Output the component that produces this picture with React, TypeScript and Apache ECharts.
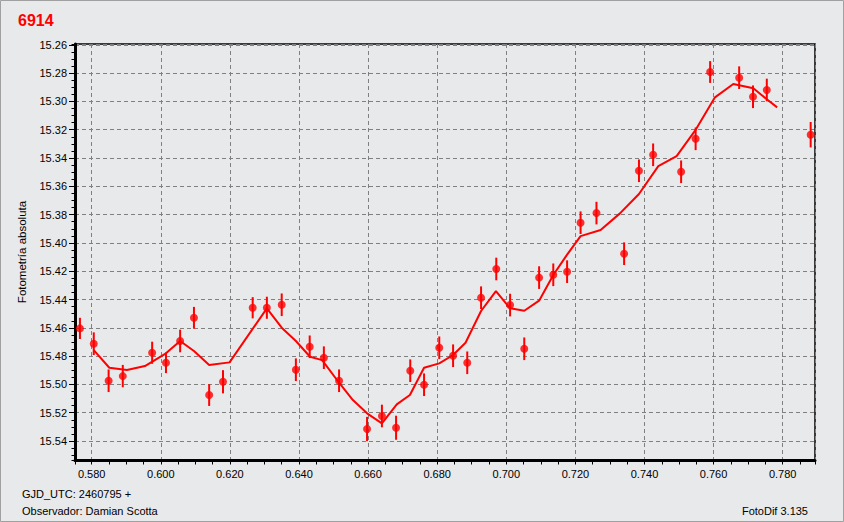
import React, { useEffect, useRef } from 'react';
import * as echarts from 'echarts';

// ---- data ----
const pointX = [
  0.5766, 0.5806, 0.5849, 0.589, 0.5975, 0.6015, 0.6056, 0.6096, 0.614, 0.618,
  0.6266, 0.6307, 0.635, 0.6391, 0.6431, 0.6472, 0.6516, 0.6597, 0.664, 0.6681,
  0.6722, 0.6762, 0.6806, 0.6846, 0.6887, 0.6927, 0.6971, 0.7011, 0.7052, 0.7095,
  0.7136, 0.7176, 0.7215, 0.7261, 0.7341, 0.7384, 0.7425, 0.7506, 0.7548, 0.759,
  0.7674, 0.7714, 0.7754, 0.7881,
];
const pointY = [
  15.4604, 15.4712, 15.4974, 15.4941, 15.4776, 15.4847, 15.4693, 15.4529, 15.5075, 15.4981,
  15.4458, 15.4458, 15.4437, 15.4896, 15.4734, 15.4811, 15.4974, 15.5315, 15.5223, 15.5306,
  15.4903, 15.5002, 15.4741, 15.4797, 15.4847, 15.4387, 15.4184, 15.4439, 15.4748, 15.4245,
  15.4225, 15.4203, 15.3857, 15.3789, 15.4076, 15.349, 15.3377, 15.3497, 15.3264, 15.2792,
  15.2832, 15.2967, 15.2919, 15.3235,
];
const pointErr = [
  0.0075, 0.008, 0.008, 0.0079, 0.0078, 0.0073, 0.008, 0.0077, 0.0077, 0.0082,
  0.0075, 0.0078, 0.008, 0.008, 0.008, 0.008, 0.008, 0.0086, 0.008, 0.0085,
  0.008, 0.008, 0.008, 0.008, 0.008, 0.008, 0.008, 0.008, 0.008, 0.008,
  0.008, 0.008, 0.008, 0.008, 0.008, 0.008, 0.008, 0.008, 0.008, 0.0077,
  0.008, 0.008, 0.008, 0.009,
];
const lineX = [
  0.5806, 0.5851, 0.5902, 0.5954, 0.6015, 0.6056, 0.6096, 0.614, 0.6199, 0.6307,
  0.635, 0.6391, 0.6432, 0.6467, 0.6516, 0.6556, 0.6597, 0.664, 0.6683, 0.6721,
  0.6762, 0.6806, 0.6846, 0.6882, 0.6927, 0.697, 0.7011, 0.7052, 0.7095, 0.7136,
  0.7175, 0.7215, 0.7273, 0.7329, 0.7384, 0.744, 0.7493, 0.7549, 0.7604, 0.7657,
  0.7715, 0.7754, 0.7784,
];
const lineY = [
  15.4757, 15.4882, 15.4898, 15.487, 15.478, 15.4693, 15.4764, 15.4863, 15.4844, 15.4462,
  15.4599, 15.4693, 15.4804, 15.4828, 15.4988, 15.511, 15.5204, 15.5275, 15.5141, 15.5075,
  15.4882, 15.4851, 15.4792, 15.4705, 15.4481, 15.434, 15.4462, 15.4479, 15.4408, 15.4227,
  15.4086, 15.3952, 15.3909, 15.3791, 15.3654, 15.3457, 15.3386, 15.3197, 15.2971, 15.2877,
  15.2907, 15.2985, 15.3042,
];

const titleText = '6914';
const yAxisName = 'Fotometría absoluta';
const footerDate = 'GJD_UTC: 2460795 +';
const footerObserver = 'Observador: Damian Scotta';
const footerSoftware = 'FotoDif 3.135';

const X_MIN = 0.57517;
const X_MAX = 0.78935;
const Y_MIN = 15.2594;
const Y_MAX = 15.5534;

const FONT = '"Liberation Sans", Arial, sans-serif';
const RED = '#ff0000';
const BG = '#e8e9eb';

export default function App() {
  const ref = useRef<HTMLDivElement>(null);

  useEffect(() => {
    if (!ref.current) return;
    const chart = echarts.init(ref.current, undefined, { renderer: 'svg' });

    const points = pointX.map((x, i) => [x, pointY[i]]);
    const bars = pointX.map((x, i) => [x, pointY[i] - pointErr[i], pointY[i] + pointErr[i]]);
    const line = lineX.map((x, i) => [x, lineY[i]]);

    const option: any = {
      animation: false,
      backgroundColor: BG,
      grid: {
        left: 75,
        top: 44,
        right: 29,
        bottom: 62,
        show: true,
        borderColor: '#000',
        borderWidth: 1.5,
        backgroundColor: 'transparent',
        containLabel: false,
        outerBoundsMode: 'none',
      },
      xAxis: [
        {
          type: 'value',
          min: X_MIN,
          max: X_MAX,
          minInterval: 0.02,
          maxInterval: 0.02,
          position: 'bottom',
          axisLine: { show: true, onZero: false, lineStyle: { color: '#000', width: 3 } },
          axisTick: { show: false },
          axisLabel: {
            showMinLabel: false,
            showMaxLabel: false,
            color: '#000',
            fontSize: 11,
            fontFamily: FONT,
            margin: 8,
            formatter: (v: number) => v.toFixed(3),
          },
          splitLine: { show: true, lineStyle: { color: '#808080', width: 1, type: [4, 3] } },
        },
        {
          type: 'value',
          min: X_MIN,
          max: X_MAX,
          minInterval: 0.005,
          maxInterval: 0.005,
          position: 'bottom',
          axisLine: { show: false, onZero: false },
          axisTick: { show: true, length: 4.5, lineStyle: { color: '#000', width: 1 } },
          axisLabel: { show: false },
          splitLine: { show: false },
        },
      ],
      yAxis: [
        {
          type: 'value',
          inverse: true,
          min: Y_MIN,
          max: Y_MAX,
          minInterval: 0.02,
          maxInterval: 0.02,
          position: 'left',
          name: yAxisName,
          nameLocation: 'middle',
          nameGap: 47,
          nameTextStyle: { color: '#000', fontSize: 11.5, fontFamily: FONT },
          axisLine: { show: true, onZero: false, lineStyle: { color: '#000', width: 3 } },
          axisTick: { show: true, length: 6, lineStyle: { color: '#000', width: 1 } },
          axisLabel: {
            showMinLabel: false,
            showMaxLabel: false,
            color: '#000',
            fontSize: 11,
            fontFamily: FONT,
            margin: 8,
            formatter: (v: number) => v.toFixed(2),
          },
          splitLine: { show: true, lineStyle: { color: '#808080', width: 1, type: [4, 3] } },
        },
        {
          type: 'value',
          inverse: true,
          min: Y_MIN,
          max: Y_MAX,
          minInterval: 0.005,
          maxInterval: 0.005,
          position: 'left',
          axisLine: { show: false, onZero: false },
          axisTick: { show: true, length: 3.5, lineStyle: { color: '#000', width: 1 } },
          axisLabel: { show: false },
          splitLine: { show: false },
        },
      ],
      series: [
        {
          type: 'line',
          xAxisIndex: 0,
          yAxisIndex: 0,
          data: line,
          symbol: 'none',
          lineStyle: { color: RED, width: 2 },
          z: 2,
        },
        {
          type: 'custom',
          xAxisIndex: 0,
          yAxisIndex: 0,
          data: bars,
          encode: { x: 0, y: [1, 2] },
          renderItem: (params: any, api: any) => {
            const x = api.value(0);
            const lo = api.coord([x, api.value(1)]);
            const hi = api.coord([x, api.value(2)]);
            return {
              type: 'line',
              shape: { x1: lo[0], y1: lo[1], x2: hi[0], y2: hi[1] },
              style: { stroke: RED, lineWidth: 2 },
            };
          },
          z: 3,
        },
        {
          type: 'scatter',
          xAxisIndex: 0,
          yAxisIndex: 0,
          data: points,
          symbol: 'circle',
          symbolSize: 8,
          itemStyle: { color: RED },
          z: 4,
        },
      ],
      graphic: [
        {
          type: 'rect',
          shape: { x: 0.5, y: 0.5, width: 843, height: 521 },
          style: { fill: 'none', stroke: '#a0a0a0', lineWidth: 1 },
          silent: true,
        },
        {
          type: 'text',
          x: 18,
          y: 20,
          style: { text: titleText, fill: RED, font: `bold 16px ${FONT}`, verticalAlign: 'middle', align: 'left' },
        },
        {
          type: 'text',
          x: 22,
          y: 494,
          style: { text: footerDate, fill: '#000', font: `11px ${FONT}`, verticalAlign: 'middle', align: 'left' },
        },
        {
          type: 'text',
          x: 22,
          y: 511,
          style: { text: footerObserver, fill: '#000', font: `11px ${FONT}`, verticalAlign: 'middle', align: 'left' },
        },
        {
          type: 'text',
          x: 808,
          y: 511,
          style: { text: footerSoftware, fill: '#000', font: `11px ${FONT}`, verticalAlign: 'middle', align: 'right' },
        },
      ],
    };

    chart.setOption(option);
    return () => chart.dispose();
  }, []);

  return (
    <div
      ref={ref}
      style={{ position: 'fixed', left: 0, top: 0, width: 844, height: 522, background: BG }}
    />
  );
}
